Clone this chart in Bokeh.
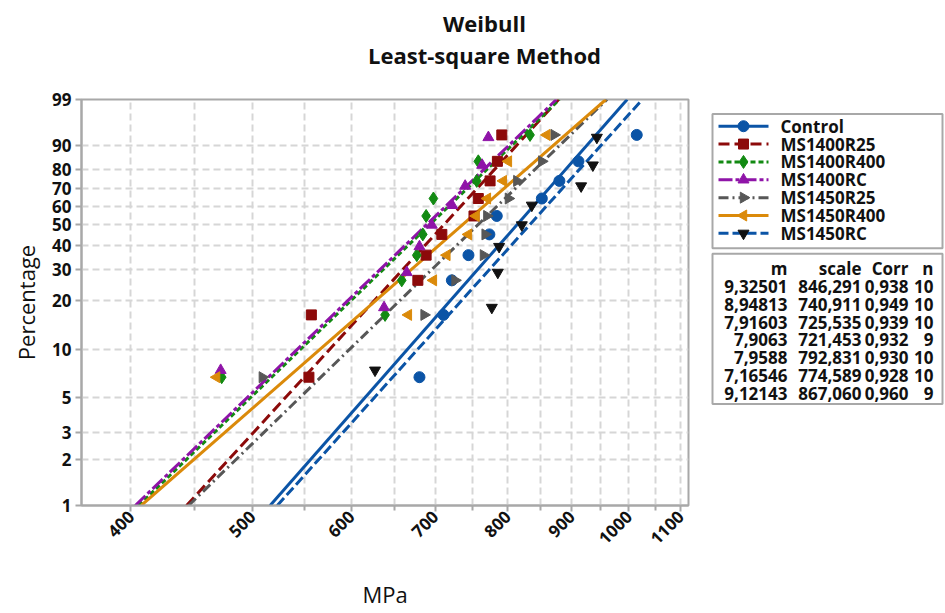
import math
from bokeh.plotting import figure
from bokeh.layouts import column, row
from bokeh.models import Range1d, FixedTicker, CustomJSTickFormatter
from bokeh.core.properties import value
from bokeh.embed import file_html
from bokeh.resources import INLINE

# ---------------- data ----------------
series = ["Control", "MS1400R25", "MS1400R400", "MS1400RC",
          "MS1450R25", "MS1450R400", "MS1450RC"]

control    = [680.2, 710.9, 722.0, 744.4, 773.6, 784.2, 852.0, 880.0, 911.4, 1014.6]
ms1400r25  = [555.0, 557.5, 678.2, 688.6, 708.8, 752.0, 758.0, 774.6, 785.1, 791.5]
ms1400r400 = [472.7, 638.5, 658.4, 676.9, 684.4, 688.6, 697.9, 755.8, 758.0, 833.7]
ms1400rc   = [471.8, 637.3, 664.5, 680.2, 695.8, 722.4, 739.9, 763.4, 772.2]
ms1450r25  = [509.4, 686.0, 726.2, 765.2, 767.6, 770.0, 801.2, 813.7, 852.0, 871.5]
ms1450r400 = [468.3, 666.5, 697.9, 715.4, 744.4, 754.8, 770.8, 793.8, 801.2, 859.8]
ms1450rc   = [626.8, 777.1, 785.7, 787.6, 821.2, 836.4, 915.9, 935.9, 942.8]

shape_m = [9.32501, 8.94813, 7.91603, 7.9063, 7.9588, 7.16546, 9.12143]
scale   = [846.291, 740.911, 725.535, 721.453, 792.831, 774.589, 867.060]
corr    = [0.938, 0.949, 0.939, 0.932, 0.930, 0.928, 0.960]
n_obs   = [10, 10, 10, 9, 10, 10, 9]

pct_ticks = [1, 2, 3, 5, 10, 20, 30, 40, 50, 60, 70, 80, 90, 99]
mpa_ticks = [400, 500, 600, 700, 800, 900, 1000, 1100]
mpa_minor = [450, 550, 650, 750, 850, 950, 1050]

data = [control, ms1400r25, ms1400r400, ms1400rc, ms1450r25, ms1450r400, ms1450rc]

# ---------------- styles ----------------
line_colors = ["#0b54a6", "#8c0a0a", "#128a12", "#8f14a8", "#575757", "#db8a0a", "#0b54a6"]
mark_colors = ["#0b54a6", "#8c0a0a", "#128a12", "#8f14a8", "#575757", "#db8a0a", "#111111"]
markers = ["circle", "square", "diamond", "triangle", "triangle", "triangle", "inverted_triangle"]
angles = [0, 0, 0, 0, -math.pi / 2, math.pi / 2, 0]
msizes = [11, 10, 13, 11, 11, 11, 11]
dashes = ["solid", "11 5", "5 3", "14 3 4 3", "10 4 2 4", "solid", "10 4"]
FONT = value("Open Sans")

W_TOTAL, H_TOTAL = 944, 612
TITLE_H = 80
MAIN_W = 700


def wt(p):
    return math.log(-math.log(1.0 - p))


# ---------------- title strip ----------------
tf = figure(width=W_TOTAL, height=TITLE_H, x_range=Range1d(0, W_TOTAL),
            y_range=Range1d(TITLE_H, 0),
            toolbar_location=None, output_backend="svg", min_border=0,
            x_axis_location=None, y_axis_location=None, title_location=None)
tf.grid.visible = False
tf.outline_line_color = None
tf.text(x=[484, 484], y=[22, 54], text=["Weibull", "Least-square Method"],
        text_align="center", text_baseline="middle", text_font=FONT,
        text_font_size="22px", text_font_style="bold", text_color="#111111")

# ---------------- main plot ----------------
p = figure(width=MAIN_W, height=H_TOTAL - TITLE_H, x_axis_type="log",
           x_range=Range1d(365.2, 1116.0), y_range=Range1d(wt(0.01), wt(0.99)),
           toolbar_location=None, output_backend="svg", title_location=None,
           min_border_left=81, min_border_right=12, min_border_top=19, min_border_bottom=104)

p.xgrid.ticker = FixedTicker(ticks=sorted(mpa_ticks + mpa_minor))
p.ygrid.ticker = FixedTicker(ticks=[wt(v / 100) for v in pct_ticks[1:-1]])
for g in (p.xgrid, p.ygrid):
    g.grid_line_color = "#d6d6d6"
    g.grid_line_dash = "7 4"
    g.grid_line_width = 2

p.outline_line_color = "#a8a8a8"
p.outline_line_width = 2

p.xaxis.ticker = FixedTicker(ticks=mpa_ticks, minor_ticks=mpa_minor)
p.xaxis.formatter = CustomJSTickFormatter(code="return Math.round(tick).toString();")
p.xaxis.major_label_orientation = math.pi / 4
p.yaxis.ticker = FixedTicker(ticks=[wt(v / 100) for v in pct_ticks])
p.yaxis.formatter = CustomJSTickFormatter(
    code="return Math.round(100*(1-Math.exp(-Math.exp(tick)))).toString();")

for ax in (p.xaxis, p.yaxis):
    ax.axis_line_color = "#a8a8a8"
    ax.axis_line_width = 2
    ax.major_tick_line_color = "#a8a8a8"
    ax.major_tick_line_width = 2
    ax.minor_tick_line_width = 2
    ax.major_tick_out = 6
    ax.major_tick_in = 0
    ax.minor_tick_out = 5
    ax.minor_tick_in = 0
    ax.major_label_text_font = "Open Sans"
    ax.major_label_text_font_size = "17px"
    ax.major_label_text_font_style = "bold"
    ax.major_label_text_color = "#111111"
    ax.axis_label_text_font = "Open Sans"
    ax.axis_label_text_font_size = "22px"
    ax.axis_label_text_font_style = "normal"
    ax.axis_label_text_color = "#111111"
p.xaxis.minor_tick_line_color = "#a8a8a8"
p.yaxis.minor_tick_line_color = None

p.xaxis.axis_label = "MPa"
p.yaxis.axis_label = "Percentage"
p.xaxis.major_label_standoff = 2
p.yaxis.major_label_standoff = 4
p.xaxis.axis_label_standoff = 26
p.yaxis.axis_label_standoff = 8

# fitted lines
for k in range(len(series)):
    xs = [scale[k] * (-math.log(1 - q)) ** (1.0 / shape_m[k]) for q in (0.01, 0.99)]
    ys = [wt(0.01), wt(0.99)]
    p.line(xs, ys, line_color=line_colors[k], line_width=3, line_dash=dashes[k])

# data points (median ranks)
for k in range(len(series)):
    vals = sorted(data[k])
    n = len(vals)
    ys = [wt((i - 0.3) / (n + 0.4)) for i in range(1, n + 1)]
    p.scatter(vals, ys, marker=markers[k], size=msizes[k], angle=angles[k],
              fill_color=mark_colors[k], line_color=mark_colors[k])

# ---------------- legend + table ----------------
rf = figure(width=W_TOTAL - MAIN_W, height=H_TOTAL - TITLE_H,
            x_range=Range1d(MAIN_W, W_TOTAL), y_range=Range1d(H_TOTAL, TITLE_H),
            toolbar_location=None, output_backend="svg", min_border=0,
            x_axis_location=None, y_axis_location=None, title_location=None)
rf.grid.visible = False
rf.outline_line_color = None

rf.quad(left=[712], right=[942], top=[99], bottom=[275], fill_color=None,
        line_color="#a8a8a8", line_width=2)
rf.quad(left=[712], right=[942], top=[282], bottom=[479], fill_color=None,
        line_color="#a8a8a8", line_width=2)

for k in range(len(series)):
    y = 115 + 23.4 * k
    rf.line([718, 768], [y, y], line_color=line_colors[k], line_width=3, line_dash=dashes[k])
    rf.scatter([743], [y], marker=markers[k], size=msizes[k], angle=angles[k],
               fill_color=mark_colors[k], line_color=mark_colors[k])
    rf.text([780], [y], text=[series[k]], text_baseline="middle", text_align="left",
            text_font=FONT, text_font_size="17px", text_font_style="bold",
            text_color="#111111")

col_right = [787, 861, 908, 933]
headers = ["m", "scale", "Corr", "n"]
rf.text(col_right, [302] * 4, text=headers, text_align="right", text_baseline="middle",
        text_font=FONT, text_font_size="17px", text_font_style="bold", text_color="#111111")
for k in range(len(series)):
    y = 325 + 23.3 * k
    cells = [str(shape_m[k]).replace(".", ","),
             f"{scale[k]:.3f}".replace(".", ","),
             f"{corr[k]:.3f}".replace(".", ","),
             str(n_obs[k])]
    rf.text(col_right, [y] * 4, text=cells, text_align="right", text_baseline="middle",
            text_font=FONT, text_font_size="17px", text_font_style="bold",
            text_color="#111111")

layout = column(tf, row(p, rf))
open("out.html", "w").write(file_html(layout, INLINE))
